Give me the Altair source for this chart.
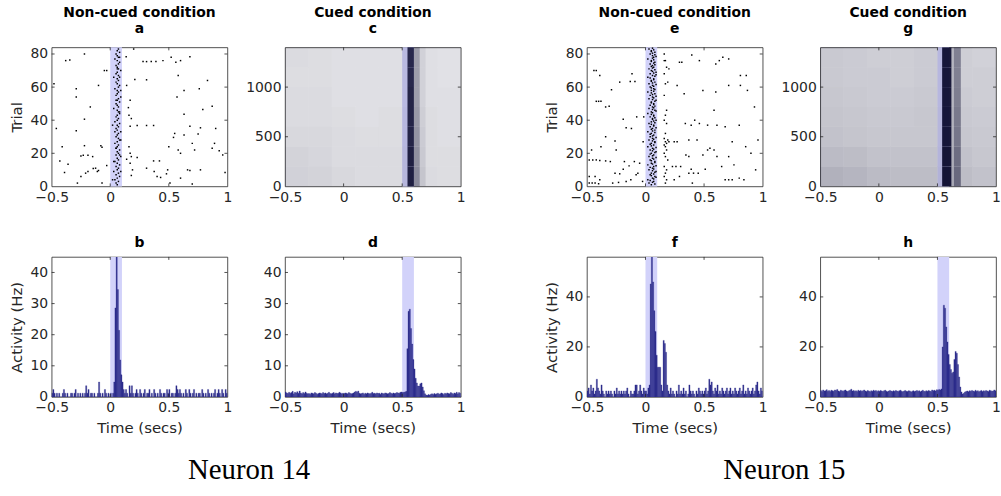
import altair as alt
import pandas as pd

FONT = "DejaVu Sans"
AXC = "#262626"
SHADE = "#d2d2fa"
BAR = "#2d2d8c"
DOT = "#000000"
DENS = "#0b0b2e"

# ---------------- data ----------------
x_ticks = [-0.5, 0, 0.5, 1]
bin_width = 0.01
bin_starts = [round(-0.5 + bin_width * i, 2) for i in range(150)]

shade_noncued = [0.0, 0.1]
shade_cued = [0.5, 0.6]

# PSTH, Neuron 14 non-cued (b)
psth_b = [1.2,2.4,1.2,0,1.2,0,1.2,0,0,1.2,
          2.4,1.2,0,1.2,0,0,1.2,1.2,0,1.2,
          2.4,0,1.2,0,1.2,0,1.2,0,1.2,3.6,
          1.2,2.4,0,1.2,1.2,0,1.2,0,0,1.2,
          4.8,1.2,0,1.2,0,2.4,1.2,0,1.2,0,
          1.2,0,1.2,4.8,28.6,46,34.5,21.4,11.9,7.1,
          4.8,2.4,1.2,2.4,1.2,0,3.6,1.2,3.6,1.2,
          0,1.2,2.4,1.2,0,2.4,1.2,0,1.2,2.4,
          0,1.2,1.2,2.4,0,1.2,0,2.4,1.2,0,
          1.2,0,2.4,1.2,0,1.2,1.2,0,2.4,1.2,
          2.4,0,1.2,1.2,0,1.2,3.6,2.4,1.2,2.4,
          1.2,0,1.2,0,2.4,1.2,0,2.4,1.2,0,
          1.2,2.4,0,1.2,0,1.2,1.2,0,2.4,1.2,
          0,1.2,0,2.4,1.2,0,1.2,0,1.2,2.4,
          0,1.2,2.4,1.2,0,2.4,1.2,0,2.4,1.2]
# PSTH, Neuron 14 cued (d)
psth_d = [1.6,1.3,1.1,1.5,1.2,1.4,1.8,1.0,1.5,1.3,
          1.7,1.2,1.9,1.3,1.0,1.4,1.1,1.6,1.2,1.0,
          1.1,0.9,1.3,1.2,1.0,1.4,1.2,0.9,1.1,1.3,
          1.2,1.0,1.4,1.1,1.3,1.0,1.2,1.5,1.1,1.0,
          1.2,1.4,1.0,1.3,1.1,1.2,1.5,1.3,1.0,1.2,
          1.1,1.3,1.2,1.0,1.4,1.2,1.0,1.1,1.3,1.6,
          1.8,1.5,1.9,1.2,1.0,1.1,1.3,0.9,1.2,1.0,
          1.3,1.1,1.0,1.2,1.5,1.1,1.2,1.0,1.3,1.1,
          1.2,0.9,1.3,1.1,1.0,1.3,1.2,1.0,1.1,1.4,
          1.2,1.0,1.3,1.1,1.2,1.4,1.3,1.2,1.5,1.6,
          1.4,1.5,1.6,1.8,15.5,27.5,28.2,22.0,17.0,12.0,
          9.0,6.0,4.5,3.5,3.5,4.2,4.5,3.2,2.0,1.0,
          0.6,0.5,0.8,0.6,0.9,1.0,0.8,1.1,0.9,1.0,
          1.2,0.9,1.0,1.3,1.1,0.8,1.2,1.0,1.3,1.1,
          1.0,1.4,1.2,0.9,1.3,1.1,1.5,1.0,1.4,1.2]
# PSTH, Neuron 15 non-cued (f)
psth_f = [2.4,3.6,1.2,4.8,2.4,3.6,1.2,2.4,7.1,3.6,
          2.4,1.2,4.8,2.4,1.2,0,2.4,1.2,2.4,1.2,
          2.4,1.2,0,2.4,1.2,3.6,1.2,2.4,1.2,2.4,
          1.2,2.4,1.2,2.4,3.6,1.2,0,2.4,1.2,1.2,
          2.4,4.8,4.8,1.2,2.4,4.8,2.4,1.2,3.6,2.4,
          2.4,1.2,3.6,4.8,45.2,58,46,34.5,26.2,16.7,
          11.9,11.9,11.9,4.8,2.4,22.6,21.4,17.9,4.8,2.4,
          1.2,3.6,1.2,2.4,1.2,0,2.4,1.2,4.8,1.2,
          2.4,1.2,3.6,1.2,2.4,0,1.2,4.8,2.4,1.2,
          2.4,1.2,0,2.4,1.2,3.6,2.4,1.2,2.4,1.2,
          2.4,3.6,1.2,2.4,7.1,4.8,6.0,2.4,1.2,3.6,
          2.4,4.8,1.2,2.4,1.2,3.6,2.4,1.2,2.4,3.6,
          1.2,2.4,3.6,1.2,2.4,1.2,3.6,2.4,1.2,2.4,
          3.6,1.2,2.4,4.8,1.2,2.4,1.2,3.6,2.4,1.2,
          2.4,3.6,1.2,2.4,4.8,6.0,2.4,1.2,3.6,2.4]
# PSTH, Neuron 15 cued (h)
psth_h = [2.6,2.2,2.8,2.4,2.5,2.9,2.3,2.6,2.2,2.7,
          2.5,2.3,2.8,2.6,3.0,2.4,2.2,2.7,2.5,2.3,
          2.6,2.8,2.4,2.2,2.5,2.7,3.1,2.4,2.6,2.3,
          2.5,2.2,2.7,2.4,2.6,2.3,2.5,2.8,2.4,2.2,
          2.6,2.4,2.1,2.5,2.3,2.7,2.4,2.6,2.2,2.5,
          2.3,2.6,2.4,2.2,2.5,2.7,2.3,2.1,2.4,2.6,
          2.4,2.2,2.5,2.3,2.6,2.4,2.2,2.5,2.7,2.3,
          2.1,2.4,2.6,2.3,2.2,2.5,2.4,2.0,2.3,2.5,
          2.2,2.4,2.6,2.3,2.5,2.1,2.4,2.7,2.3,2.2,
          2.5,2.3,2.6,2.4,2.2,2.8,2.5,2.7,2.4,2.9,
          2.7,3.0,2.8,3.2,20.0,36.7,35.5,28.0,22.0,17.0,
          13.0,11.0,9.5,10.0,15.0,18.2,17.5,13.0,8.0,4.0,
          2.0,1.2,1.5,2.0,2.2,2.4,2.1,2.5,2.3,2.6,
          2.4,2.2,2.7,2.3,2.5,2.1,2.4,2.6,2.2,2.5,
          2.3,2.6,2.4,2.2,2.7,2.5,2.3,2.4,2.8,2.5]

# Raster a (Neuron 14, non-cued): scattered spikes
a_bg_t = [-0.48,-0.38,-0.345,-0.22,-0.29,-0.29,-0.10,-0.05,-0.03,-0.17,
          -0.22,-0.29,-0.46,-0.41,-0.22,-0.08,-0.07,-0.43,-0.36,-0.25,
          -0.23,-0.19,-0.15,-0.39,-0.21,-0.19,-0.125,-0.11,-0.10,-0.145,
          -0.25,-0.28,-0.07,-0.03,
          0.136,0.20,0.28,0.31,0.35,0.39,0.45,0.52,0.60,0.68,
          0.56,0.14,0.17,0.21,0.31,0.58,0.83,0.76,0.63,0.57,
          0.87,0.79,0.63,0.18,0.17,0.31,0.37,0.23,0.68,0.77,
          0.90,0.55,0.63,0.54,0.75,0.70,0.89,0.16,0.17,0.50,
          0.58,0.72,0.87,0.93,0.96,0.60,0.14,0.18,0.23,0.37,
          0.42,0.17,0.19,0.18,0.31,0.375,0.49,0.66,0.68,0.77,
          0.40,0.43,0.51,0.48,0.60,0.70,0.98,0.155,0.16]
a_bg_trial = [62,76,76.4,80,59,54,61,70,70,48,
              40.6,33.6,35,24,24.6,24.6,23.6,15.4,13.4,18.4,
              18.8,18.8,18,8.4,8,9,11,9,9.6,10.8,
              6,2,2,12.6,
              78.4,83,75.4,75.4,75.4,75.4,76,78,76,78.4,
              75,61,52,64.6,64.4,67,64,59,58,54,
              48.4,46.4,43.6,41,36.4,36.8,36.8,36.8,36.4,35.4,
              35,32,31,29.6,31.6,26,26,24,20,24,
              22,22,23,21.6,19,20,16.4,18,17.4,15.4,
              15.4,14,10,6.6,11,9,10,10,9.6,10,
              6,5.4,2,7.6,5,1.4,8.4,47.6,43]
a_band_t = [0.06,0.05,0.07,0.04,0.06,0.08,0.05,0.07,0.03,0.06,
            0.07,0.05,0.08,0.06,0.04,0.07,0.06,0.09,0.05,0.07,
            0.06,0.08,0.05,0.06,0.07,0.04,0.06,0.08,0.07,0.05,
            0.06,0.07,0.09,0.06,0.05,0.07,0.06,0.08,0.04,0.06,
            0.07,0.05,0.06,0.08,0.07,0.06,0.03,0.07,0.06,0.05,
            0.08,0.06,0.07,0.09,0.05,0.06,0.07,0.06,0.04,0.07,
            0.08,0.06,0.05,0.07,0.06,0.08,0.07,0.05,0.06,0.09,
            0.07,0.06,0.05,0.07,0.08,0.06,0.04,0.07,0.06,0.05,
            0.08,0.06,0.07]
a_band_extra_t = [0.02,0.09,0.03,0.08,0.05,0.09,0.04,0.02,0.08,0.05,0.09,0.03,0.06,0.08]
a_band_extra_trial = [4,9,15,19,23,28,33,37,45,52,58,66,71,78]

# Raster e (Neuron 15, non-cued)
e_bg_t = [-0.44,-0.42,-0.39,-0.115,-0.22,-0.13,-0.09,-0.29,-0.42,-0.40,
          -0.38,-0.34,-0.31,-0.19,-0.165,-0.12,-0.075,-0.015,-0.34,-0.26,
          -0.02,-0.46,-0.38,-0.25,-0.48,-0.45,-0.42,-0.39,-0.34,-0.30,
          -0.18,-0.14,-0.095,-0.05,-0.26,-0.22,-0.19,-0.065,-0.48,-0.43,
          -0.39,-0.48,-0.455,-0.43,-0.40,-0.28,-0.23,-0.165,-0.125,-0.025,
          -0.08,
          0.16,0.20,0.29,0.31,0.395,0.46,0.60,0.63,0.66,0.71,
          0.27,0.33,0.49,0.60,0.71,0.81,0.87,0.81,0.585,0.34,
          0.39,0.42,0.46,0.53,0.61,0.68,0.80,0.245,0.27,0.20,
          0.37,0.44,0.53,0.55,0.585,0.74,0.855,0.345,0.37,0.49,
          0.61,0.71,0.23,0.26,0.30,0.39,0.51,0.65,0.755,0.29,
          0.37,0.41,0.45,0.245,0.40,0.68,0.71,0.74,0.80,0.84,
          0.86,0.93,0.96,0.90,0.94]
e_bg_trial = [70,70,67,68,63,63.4,63.4,58.4,51.4,51.4,
              51.4,48,48.4,40.6,35.4,35,42,42,30,27.4,
              27,22,24,22,16,16,16,15.6,15.4,15,
              15,12.4,15,14,8,7.6,10.4,8,6,6,
              4,2,2,2,1.6,2,2.4,3,4,3,
              7,
              76,71,75,75,79.4,76,74,76,78,77,
              61,56,58,57,61,61,58,67,46,38,
              37,40,38,37,37,36,37,27,27,27,
              28,28,22,23,22,27,24,19,18,19,
              18,18,12,12,12,10.4,10.4,12,13,6,
              8,8,8,4,2,4,4,4,5,4,
              67,48,28,20,10]
e_col_t = [0.16,0.17,0.18,0.16,0.19,0.17,0.16,0.18,0.17,0.16,0.18,0.17,0.16,0.19,
           0.17,0.18,0.16,0.17,0.18,0.16,0.17,0.19,0.16,0.18,0.17,0.16,0.18,0.17]
e_col_trial = [80,76,72,68,63,62,55,46,43,40,38,32,29,28,
               27,26,25,24,22,20,18,16,12,10,8,6,4,2]
e_band_t1 = [0.05,0.03,0.07,0.02,0.06,0.08,0.04,0.05,0.09,0.03,
             0.06,0.07,0.02,0.05,0.08,0.04,0.06,0.03,0.07,0.05,
             0.09,0.04,0.06,0.02,0.07,0.05,0.08,0.03,0.06,0.04,
             0.07,0.05,0.02,0.08,0.06,0.04,0.07,0.03,0.05,0.09,
             0.06,0.04,0.07,0.02,0.05,0.08,0.03,0.06,0.04,0.07,
             0.05,0.09,0.03,0.06,0.04,0.08,0.02,0.05,0.07,0.04,
             0.06,0.03,0.08,0.05,0.07,0.02,0.06,0.04,0.09,0.05,
             0.03,0.07,0.06,0.04,0.08,0.05,0.02,0.07,0.06,0.04,
             0.08,0.05,0.03]
e_band_t2 = [0.08,0.06,0.04,0.07,0.09,0.05,0.07,0.08,0.06,0.07,
             0.04,0.09,0.06,0.08,0.05,0.07,0.09,0.06,0.04,0.08,
             0.06,0.07,0.09,0.05,0.04,0.08,0.06,0.07,0.09,0.06,
             0.04,0.08,0.06,0.05,0.09,0.07,0.05,0.08,0.07,0.06,
             0.08,0.07,0.05,0.06,0.09,0.06,0.07,0.08,0.07,0.05,
             0.08,0.06,0.07,0.09,0.06,0.05,0.07,0.08,0.05,0.07,
             0.09,0.06,0.05,0.07,0.04,0.08,0.09,0.07,0.06,0.08,
             0.06,0.05,0.08,0.07,0.05,0.07,0.06,0.09,0.08,0.06,
             0.05,0.07,0.06]

# Rasters c and g (1400 trials): spike density per (time bin x 200-trial block)
trial_edges = [0, 200, 400, 600, 800, 1000, 1200, 1400]
c_t_edges = [-0.5, -0.3, -0.1, 0.1, 0.3, 0.5, 0.545, 0.6, 0.65, 0.7, 0.8, 1.0]
c_density = [
    [0.19,0.18,0.16,0.15,0.15,0.14,0.90,0.48,0.24,0.15,0.14],
    [0.18,0.17,0.15,0.15,0.15,0.14,0.90,0.46,0.22,0.14,0.14],
    [0.16,0.16,0.15,0.14,0.14,0.13,0.88,0.44,0.21,0.14,0.13],
    [0.15,0.15,0.14,0.13,0.14,0.13,0.88,0.42,0.20,0.14,0.13],
    [0.15,0.15,0.13,0.13,0.13,0.12,0.88,0.40,0.19,0.13,0.13],
    [0.14,0.14,0.13,0.13,0.13,0.12,0.86,0.40,0.19,0.13,0.12],
    [0.15,0.14,0.13,0.13,0.13,0.12,0.86,0.40,0.19,0.13,0.12],
]
g_t_edges = [-0.5, -0.3, -0.1, 0.1, 0.3, 0.5, 0.54, 0.62, 0.64, 0.7, 0.8, 1.0]
g_density = [
    [0.32,0.30,0.28,0.27,0.27,0.16,0.96,0.36,0.62,0.27,0.25],
    [0.28,0.27,0.25,0.25,0.25,0.15,0.96,0.34,0.60,0.25,0.23],
    [0.25,0.24,0.23,0.23,0.23,0.14,0.95,0.32,0.56,0.23,0.22],
    [0.24,0.23,0.22,0.22,0.23,0.14,0.95,0.32,0.55,0.22,0.21],
    [0.23,0.22,0.21,0.21,0.22,0.13,0.94,0.30,0.53,0.21,0.20],
    [0.22,0.21,0.21,0.20,0.21,0.13,0.94,0.30,0.52,0.20,0.20],
    [0.22,0.21,0.20,0.20,0.21,0.13,0.94,0.30,0.52,0.20,0.19],
]

# ---------------- helpers ----------------
W, H = 177, 140
XS = alt.Scale(domain=[-0.5, 1], nice=False, zero=False)


def xax(title):
    return alt.Axis(values=x_ticks, format=".1~f", title=title, labelFlush=False)


def yax(vals, title):
    return alt.Axis(values=vals, format="d", title=title)


def base_layers(shade, ydom, yvals, xtitle, ytitle, h):
    ys = alt.Scale(domain=ydom, nice=False, zero=False)
    X = lambda f: alt.X(f, type="quantitative", scale=XS, axis=xax(xtitle))
    Y = lambda f: alt.Y(f, type="quantitative", scale=ys, axis=yax(yvals, ytitle))
    sdf = pd.DataFrame({"s": [shade[0]], "e": [shade[1]]})
    shade_layer = alt.Chart(sdf).mark_rect(color=SHADE).encode(
        x=X("s"), x2="e", y=alt.value(0), y2=alt.value(h))
    inner_x = [v for v in x_ticks if -0.5 < v < 1]
    inner_y = [v for v in yvals if ydom[0] < v < ydom[1]]
    xdf = pd.DataFrame({"tv": inner_x})
    ydf = pd.DataFrame({"yv": inner_y})
    rule = dict(color=AXC, strokeWidth=0.8)
    ticks = [
        alt.Chart(xdf).mark_rule(**rule).encode(x=X("tv"), y=alt.value(h), y2=alt.value(h - 3)),
        alt.Chart(xdf).mark_rule(**rule).encode(x=X("tv"), y=alt.value(0), y2=alt.value(3)),
        alt.Chart(ydf).mark_rule(**rule).encode(y=Y("yv"), x=alt.value(0), x2=alt.value(3)),
        alt.Chart(ydf).mark_rule(**rule).encode(y=Y("yv"), x=alt.value(W), x2=alt.value(W - 3)),
    ]
    return X, Y, shade_layer, ticks


def title_top(cond, letter):
    return alt.TitleParams(text=[cond, letter], fontSize=14, fontWeight="bold", font=FONT,
                           color="black", offset=11, lineHeight=16)


def title_bottom(letter):
    return alt.TitleParams(text=letter, fontSize=14, fontWeight="bold", font=FONT,
                           color="black", offset=7)


def raster_sparse(ts, trials, shade, title, ytitle):
    X, Y, sh, ticks = base_layers(shade, [0, 84], [0, 20, 40, 60, 80], None, ytitle, H)
    df = pd.DataFrame({"t": ts, "trial": trials})
    dots = alt.Chart(df).mark_square(size=2.2, color=DOT, opacity=1).encode(x=X("t"), y=Y("trial"))
    return alt.layer(sh, dots, *ticks).properties(width=W, height=H, title=title)


def raster_dense(t_edges, density, shade, title):
    X, Y, sh, ticks = base_layers(shade, [0, 1400], [0, 500, 1000], None, None, H)
    rows = []
    for i, row in enumerate(density):
        for j, d in enumerate(row):
            rows.append({"t0": t_edges[j], "t1": t_edges[j + 1],
                         "r0": trial_edges[i], "r1": trial_edges[i + 1], "d": d})
    df = pd.DataFrame(rows)
    cells = alt.Chart(df).mark_rect(color=DENS).encode(
        x=X("t0"), x2="t1", y=Y("r0"), y2="r1",
        opacity=alt.Opacity("d:Q", scale=None, legend=None))
    return alt.layer(sh, cells, *ticks).properties(width=W, height=H, title=title)


def psth(values, shade, ydom, yvals, title, ytitle):
    h = H + 1
    X, Y, sh, ticks = base_layers(shade, ydom, yvals, "Time (secs)", ytitle, h)
    df = pd.DataFrame({"t0": bin_starts,
                       "t1": [round(b + bin_width, 2) for b in bin_starts],
                       "v": values})
    bars = alt.Chart(df).mark_rect(color=BAR, stroke=BAR, strokeWidth=0.3, clip=True).encode(
        x=X("t0"), x2="t1", y=Y("v"), y2=alt.value(h))
    return alt.layer(sh, bars, *ticks).properties(width=W, height=h, title=title)


# ---------------- panels ----------------
a_ts = a_bg_t + a_band_t + a_band_extra_t
a_trials = a_bg_trial + list(range(1, 1 + len(a_band_t))) + a_band_extra_trial
e_ts = e_bg_t + e_col_t + e_band_t1 + e_band_t2
e_trials = (e_bg_trial + e_col_trial + list(range(1, 1 + len(e_band_t1)))
            + [t + 0.5 for t in range(1, 1 + len(e_band_t2))])

pa = raster_sparse(a_ts, a_trials, shade_noncued, title_top("Non-cued condition", "a"), "Trial")
pc = raster_dense(c_t_edges, c_density, shade_cued, title_top("Cued condition", "c"))
pb = psth(psth_b, shade_noncued, [0, 45], [0, 10, 20, 30, 40], title_bottom("b"), "Activity (Hz)")
pd_ = psth(psth_d, shade_cued, [0, 45], [0, 10, 20, 30, 40], title_bottom("d"), None)

pe = raster_sparse(e_ts, e_trials, shade_noncued, title_top("Non-cued condition", "e"), "Trial")
pg = raster_dense(g_t_edges, g_density, shade_cued, title_top("Cued condition", "g"))
pf = psth(psth_f, shade_noncued, [0, 56], [0, 20, 40], title_bottom("f"), "Activity (Hz)")
ph = psth(psth_h, shade_cued, [0, 56], [0, 20, 40], title_bottom("h"), None)


def block(top_l, top_r, bot_l, bot_r, caption):
    return alt.concat(
        top_l, top_r, bot_l, bot_r, columns=2,
        spacing={"row": 30, "column": 12},
        title=alt.TitleParams(text=caption, orient="bottom", anchor="middle",
                              font="Liberation Serif", fontSize=29, fontWeight="normal",
                              color="black", offset=20, dx=12),
    )


chart = alt.hconcat(
    block(pa, pc, pb, pd_, "Neuron 14"),
    block(pe, pg, pf, ph, "Neuron 15"),
    spacing=78,
).properties(
    padding={"left": 8, "top": 4, "right": 0, "bottom": 0}
).configure_view(
    stroke=AXC, strokeWidth=0.8
).configure_axis(
    ticks=False, domain=False, grid=False,
    labelFont=FONT, labelFontSize=14, labelColor=AXC, labelPadding=4,
    titleFont=FONT, titleFontSize=15, titleFontWeight="normal", titleColor=AXC,
    titlePadding=6,
).configure_title(
    font=FONT
)

chart.save("out.html", embed_options={"renderer": "svg", "actions": False})
